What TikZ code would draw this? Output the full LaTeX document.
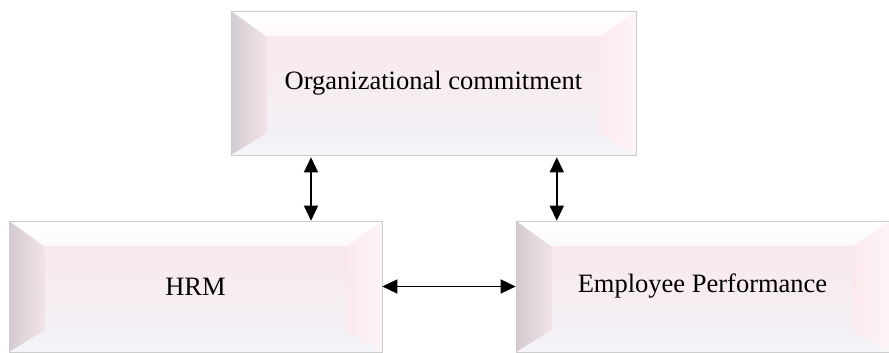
\documentclass[tikz,border=0pt]{standalone}
\usepackage{fontspec}
\setmainfont{Liberation Serif}
\usetikzlibrary{arrows.meta,calc}
\definecolor{facetop}{HTML}{F9E9ED}
\definecolor{facebot}{HTML}{F3F0F5}
\definecolor{leftdark}{HTML}{D3CBD1}
\definecolor{leftlight}{HTML}{F2E4E8}
\definecolor{rightpink}{HTML}{FBE9ED}
\definecolor{botband}{HTML}{F6F5F9}
\tikzset{
  bevelbox/.style 2 args={rectangle, minimum width=#1, minimum height=#2, inner sep=0pt,
    draw=gray!40, line width=0.6pt, font=\fontsize{26.5}{31}\selectfont,
    path picture={
      \coordinate (sw) at (path picture bounding box.south west);
      \coordinate (ne) at (path picture bounding box.north east);
      \coordinate (nw) at (path picture bounding box.north west);
      \coordinate (se) at (path picture bounding box.south east);
      \coordinate (inw) at ([shift={(36pt,-26pt)}]nw);
      \coordinate (ine) at ([shift={(-36pt,-26pt)}]ne);
      \coordinate (isw) at ([shift={(36pt,22pt)}]sw);
      \coordinate (ise) at ([shift={(-36pt,22pt)}]se);
      % facets
      \shade[top color=white, bottom color=white!70!facetop] (nw) -- (ne) -- (ine) -- (inw) -- cycle;
      \shade[top color=facebot, bottom color=botband] (sw) -- (se) -- (ise) -- (isw) -- cycle;
      \shade[left color=leftdark, right color=leftlight] (nw) -- (inw) -- (isw) -- (sw) -- cycle;
      \shade[left color=rightpink, right color=rightpink!50] (ne) -- (ine) -- (ise) -- (se) -- cycle;
      \shade[top color=facetop, bottom color=facebot] (inw) rectangle (ise);
    }},
  biarrow/.style={{Triangle[width=14pt,length=15pt]}-{Triangle[width=14pt,length=15pt]}, line width=1.4pt}
}
\begin{document}
\begin{tikzpicture}[x=1pt,y=1pt]
  \useasboundingbox (0,0) rectangle (889,353);
  \node[bevelbox={405pt}{144pt}] (org) at (433.5,270) {Organizational commitment};
  \node[bevelbox={373pt}{131pt}] (hrm) at (195.5,66.5) {HRM};
  \node[bevelbox={373pt}{131pt}] (emp) at (702.5,66.5) {Employee Performance};
  % links
  \coordinate (a1) at ($(org.south west)!0.198!(org.south east)$);
  \coordinate (a2) at ($(org.south west)!0.804!(org.south east)$);
  \draw[biarrow] ([yshift=-2pt]a1) -- (a1 |- hrm.north);
  \draw[biarrow] ([yshift=-2pt]a2) -- (a2 |- emp.north);
  \draw[biarrow] (hrm.east) -- (emp.west);
\end{tikzpicture}
\end{document}
